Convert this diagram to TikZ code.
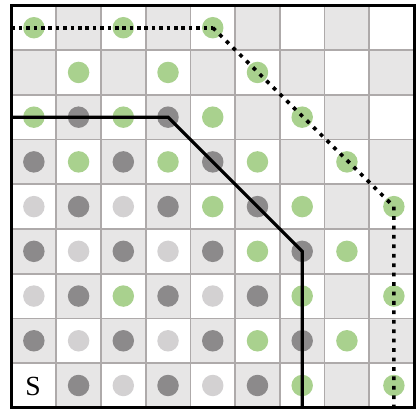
\documentclass[tikz,border=0pt]{standalone}
\usepackage{fontspec}
\setmainfont{Liberation Serif}
\definecolor{cellgrey}{HTML}{E7E6E6}
\definecolor{gridcol}{HTML}{AEAAAA}
\definecolor{grn}{HTML}{A9D18E}
\definecolor{dkg}{HTML}{8C8A8B}
\definecolor{ltg}{HTML}{D3D1D2}
\begin{document}
\begin{tikzpicture}[x=1cm,y=1cm,
  pathline/.style={line width=2.1pt, line join=miter, black},
  dotline/.style={line width=2.3pt, black, dash pattern=on 2.3pt off 2.4pt},
  dotlinewide/.style={line width=2.3pt, black, dash pattern=on 2.4pt off 3.6pt}]
\useasboundingbox (-0.257,-0.07) rectangle (9.067,9.12);
% checkerboard cells
\foreach \c in {0,...,8}{
  \foreach \j in {0,...,8}{
    \pgfmathtruncatemacro{\cellpar}{mod(\c+\j,2)}
    \ifnum\cellpar=1
      \fill[cellgrey] (\c,\j) rectangle ++(1,1);
    \fi
  }
}
\draw[gridcol, line width=1.1pt] (0,0) grid (9,9);
% circles: column / row-from-top / colour
\foreach \c/\r/\col in {
  0/0/grn, 2/0/grn, 4/0/grn,
  1/1/grn, 3/1/grn, 5/1/grn,
  0/2/grn, 1/2/dkg, 2/2/grn, 3/2/dkg, 4/2/grn, 6/2/grn,
  0/3/dkg, 1/3/grn, 2/3/dkg, 3/3/grn, 4/3/dkg, 5/3/grn, 7/3/grn,
  0/4/ltg, 1/4/dkg, 2/4/ltg, 3/4/dkg, 4/4/grn, 5/4/dkg, 6/4/grn, 8/4/grn,
  0/5/dkg, 1/5/ltg, 2/5/dkg, 3/5/ltg, 4/5/dkg, 5/5/grn, 6/5/dkg, 7/5/grn,
  0/6/ltg, 1/6/dkg, 2/6/grn, 3/6/dkg, 4/6/ltg, 5/6/dkg, 6/6/grn, 8/6/grn,
  0/7/dkg, 1/7/ltg, 2/7/dkg, 3/7/ltg, 4/7/dkg, 5/7/grn, 6/7/dkg, 7/7/grn,
  1/8/dkg, 2/8/ltg, 3/8/dkg, 4/8/ltg, 5/8/dkg, 6/8/grn, 8/8/grn}{
  \pgfmathsetmacro{\xx}{\c+0.5+(\c==8)*0.05}
  \fill[\col] (\xx,8.5-\r) circle (0.24);
}
\node[font=\fontsize{17.6}{20}\selectfont, inner sep=0] (start) at (0.48,0.47) {S};
% outer border
\draw[line width=1.9pt] (0,0) rectangle (9,9);
% solid path
\coordinate (s1) at (0,6.5);
\coordinate (s2) at (3.5,6.5);
\coordinate (s3) at (6.5,3.5);
\coordinate (s4) at (6.5,0);
\draw[pathline] (s1) -- (s2) -- (s3) -- (s4);
% dotted path
\coordinate (d1) at (0,8.5);
\coordinate (d2) at (4.5,8.5);
\coordinate (d3) at (8.55,4.5);
\coordinate (d4) at (8.55,0);
\draw[dotline] (d1) -- (d2);
\draw[dotlinewide] (d2) -- (d3) -- (d4);
\end{tikzpicture}
\end{document}
